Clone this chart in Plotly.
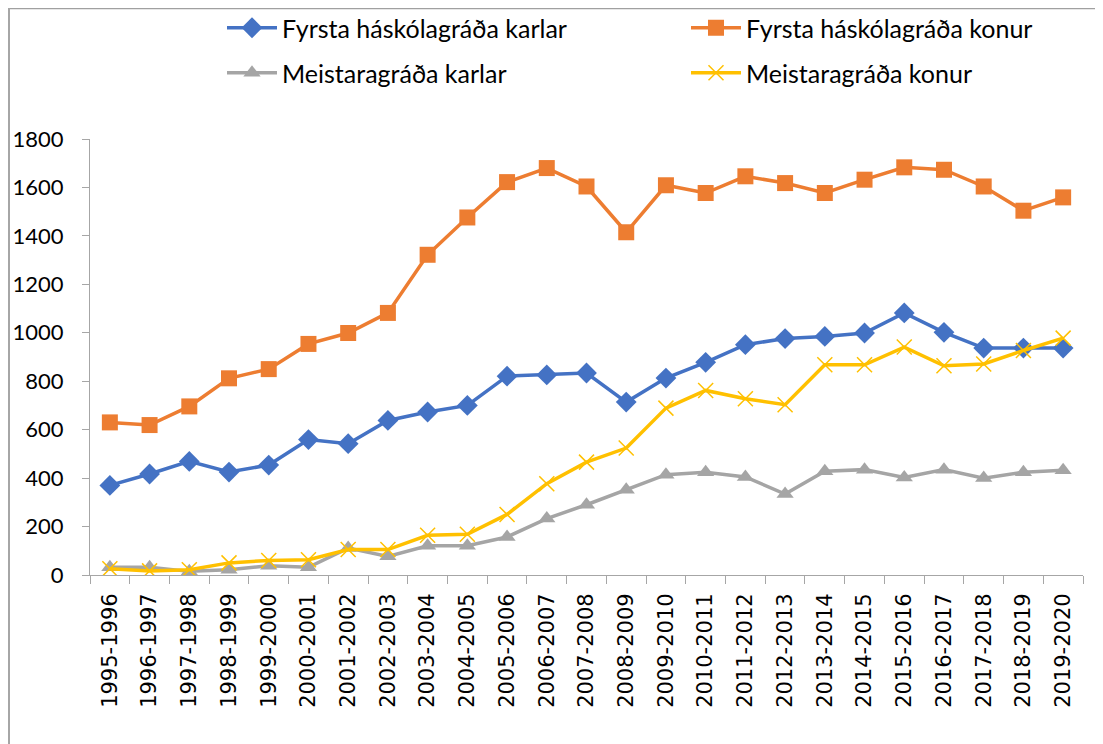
import plotly.graph_objects as go

years = ["1995-1996", "1996-1997", "1997-1998", "1998-1999", "1999-2000", "2000-2001",
         "2001-2002", "2002-2003", "2003-2004", "2004-2005", "2005-2006", "2006-2007",
         "2007-2008", "2008-2009", "2009-2010", "2010-2011", "2011-2012", "2012-2013",
         "2013-2014", "2014-2015", "2015-2016", "2016-2017", "2017-2018", "2018-2019",
         "2019-2020"]

fyrsta_karlar = [370, 417, 469, 425, 454, 559, 542, 638, 673, 700, 821, 826,
                 834, 714, 813, 878, 951, 976, 985, 999, 1082, 1002, 937, 937, 937]
fyrsta_konur = [630, 619, 696, 812, 850, 954, 999, 1082, 1322, 1476, 1622, 1680,
                1604, 1415, 1609, 1577, 1646, 1618, 1577, 1632, 1683, 1673, 1604, 1504, 1559]
meistara_karlar = [32, 32, 15, 22, 38, 32, 111, 77, 121, 121, 157, 233,
                   290, 352, 414, 424, 405, 334, 428, 435, 403, 435, 400, 424, 432]
meistara_konur = [26, 17, 22, 50, 60, 63, 105, 105, 164, 168, 250, 377,
                  466, 524, 689, 762, 728, 703, 868, 868, 941, 864, 871, 927, 978]

fig = go.Figure()
fig.add_trace(go.Scatter(x=years, y=fyrsta_karlar, name="Fyrsta háskólagráða karlar",
                         mode="lines+markers", line=dict(color="#4472C4", width=3.5),
                         marker=dict(symbol="diamond", size=16, color="#4472C4"),
                         legend="legend", showlegend=True))
fig.add_trace(go.Scatter(x=years, y=fyrsta_konur, name="Fyrsta háskólagráða konur",
                         mode="lines+markers", line=dict(color="#ED7D31", width=3.5),
                         marker=dict(symbol="square", size=16, color="#ED7D31"),
                         legend="legend2", showlegend=True))
fig.add_trace(go.Scatter(x=years, y=meistara_karlar, name="Meistaragráða karlar",
                         mode="lines+markers", line=dict(color="#A5A5A5", width=3.5),
                         marker=dict(symbol="triangle-up", size=15, color="#A5A5A5"),
                         legend="legend3", showlegend=True))
fig.add_trace(go.Scatter(x=years, y=meistara_konur, name="Meistaragráða konur",
                         mode="lines+markers", line=dict(color="#FFC000", width=3.5),
                         marker=dict(symbol="x-thin", size=15, color="#FFC000",
                                     line=dict(color="#FFC000", width=1.5)),
                         legend="legend4", showlegend=True))

# page body has an 8px margin: figure coordinates = screen coordinates - 8
OFF = 8
W, H = 1103 - OFF, 744 - OFF
L, T = 90 - OFF, 139 - OFF
R = W - (1083 - OFF)
B = H - (575 - OFF)
pw, ph = W - L - R, H - T - B

def px_x(p):
    return (p - OFF - L) / pw

def px_y(p):
    return (H - B - (p - OFF)) / ph

def leg(xp, yp):
    return dict(orientation="h", x=px_x(xp), y=px_y(yp), xanchor="left", yanchor="middle",
                itemwidth=50, font=dict(family="Lato", size=25, color="#000"),
                bgcolor="rgba(0,0,0,0)")

axis_col = "#A6A6A6"
fig.update_layout(
    width=W, height=H,
    showlegend=True,
    margin=dict(l=L, r=R, t=T, b=B, autoexpand=False),
    plot_bgcolor="white", paper_bgcolor="white",
    font=dict(family="Lato", color="#000000"),
    xaxis=dict(type="category", range=[-0.5, len(years) - 0.5], showgrid=False,
               showline=True, linecolor=axis_col, linewidth=1, ticks="outside",
               tickson="boundaries", ticklen=8, tickcolor=axis_col, tickangle=-90,
               ticklabelstandoff=9, automargin=False,
               tickfont=dict(family="DejaVu Sans", size=21, color="#000")),
    yaxis=dict(range=[0, 1800], dtick=200, showgrid=False, showline=True,
               linecolor=axis_col, linewidth=1, ticks="outside", ticklen=7,
               tickcolor=axis_col, ticklabelstandoff=14, zeroline=False, automargin=False,
               tickfont=dict(family="Lato", size=22, color="#000")),
    legend=leg(222, 28),
    legend2=leg(686, 28),
    legend3=leg(222, 73),
    legend4=leg(686, 73),
    shapes=[
        dict(type="line", xref="paper", yref="paper", x0=px_x(8), x1=px_x(1110),
             y0=px_y(8.5), y1=px_y(8.5), line=dict(color="#A0A0A0", width=1.5)),
        dict(type="line", xref="paper", yref="paper", x0=px_x(9), x1=px_x(9),
             y0=px_y(8), y1=px_y(750), line=dict(color="#A6A6A6", width=2)),
    ],
)

fig.write_html("out.html")
